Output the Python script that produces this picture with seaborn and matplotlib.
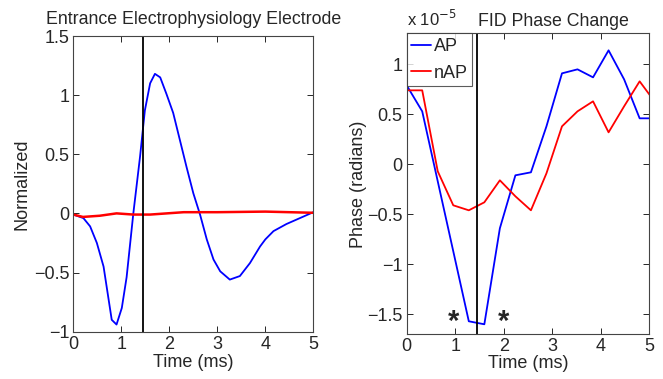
import numpy as np
import pandas as pd
import matplotlib
matplotlib.use('Agg')
import matplotlib.pyplot as plt
import seaborn as sns

# left panel: electrode trace (normalized)
elec_t = [0, 0.21, 0.35, 0.49, 0.63, 0.80, 0.90, 1.01, 1.11, 1.25, 1.39, 1.49, 1.60, 1.70, 1.81,
          1.94, 2.08, 2.22, 2.36, 2.50, 2.64, 2.78, 2.92, 3.06, 3.26, 3.47, 3.68, 3.89, 4.0,
          4.17, 4.44, 4.72, 5.0]
elec_ap = [-0.01, -0.04, -0.11, -0.25, -0.45, -0.90, -0.94, -0.80, -0.54, 0.0, 0.48, 0.87, 1.10, 1.18, 1.15,
           1.01, 0.85, 0.62, 0.39, 0.17, -0.01, -0.22, -0.39, -0.49, -0.56, -0.53, -0.42, -0.28, -0.22,
           -0.15, -0.09, -0.04, 0.01]
elec_nap_t = [0, 0.2, 0.55, 0.9, 1.25, 1.6, 2.3, 3.0, 4.0, 5.0]
elec_nap = [-0.01, -0.03, -0.02, 0.0, -0.01, -0.01, 0.01, 0.01, 0.015, 0.005]

# right panel: FID phase change (x 1e-5 rad)
fid_t = [0, 0.32, 0.64, 0.96, 1.28, 1.60, 1.92, 2.24, 2.56, 2.88, 3.20, 3.52, 3.84, 4.16, 4.48, 4.80, 5.12]
fid_ap = [0.79, 0.53, -0.17, -0.87, -1.57, -1.60, -0.64, -0.11, -0.08, 0.38, 0.91, 0.95, 0.87, 1.14, 0.85, 0.46, 0.46]
fid_nap = [0.74, 0.74, -0.07, -0.41, -0.46, -0.38, -0.16, -0.32, -0.46, -0.09, 0.38, 0.53, 0.63, 0.32, 0.58, 0.83, 0.62]
stim_t = 1.45
star_t = [0.96, 1.99]
star_y = [-1.58, -1.58]

sns.set_style('ticks')
plt.rcParams['font.family'] = ['Liberation Sans', 'DejaVu Sans']
plt.rcParams['axes.edgecolor'] = '#444444'
plt.rcParams['xtick.direction'] = 'in'
plt.rcParams['ytick.direction'] = 'in'
plt.rcParams['xtick.top'] = True
plt.rcParams['ytick.right'] = True

fig = plt.figure(figsize=(6.63, 3.79), dpi=100)
ax1 = fig.add_axes([0.1106, 0.125, 0.362, 0.780])
ax2 = fig.add_axes([0.6134, 0.118, 0.366, 0.794])

#left
sns.lineplot(x=elec_t, y=elec_ap, color='blue', lw=1.3, ax=ax1)
sns.lineplot(x=elec_nap_t, y=elec_nap, color='red', lw=1.8, ax=ax1)
ax1.axvline(stim_t, color='black', lw=1.3)
ax1.set_xlim(0, 5)
ax1.set_ylim(-1, 1.5)
ax1.set_xticks([0, 1, 2, 3, 4, 5])
ax1.set_yticks([-1, -0.5, 0, 0.5, 1, 1.5])
ax1.set_yticklabels(['\u22121', '\u22120.5', '0', '0.5', '1', '1.5'])
ax1.set_title('Entrance Electrophysiology Electrode', fontsize=12.8, pad=9)
ax1.set_xlabel('Time (ms)', fontsize=13, labelpad=1)
ax1.set_ylabel('Normalized', fontsize=13, labelpad=2)

#right
df = pd.DataFrame({'t': fid_t * 2, 'phase': fid_ap + fid_nap,
                   'kind': ['AP'] * len(fid_t) + ['nAP'] * len(fid_t)})
sns.lineplot(data=df, x='t', y='phase', hue='kind', palette={'AP': 'blue', 'nAP': 'red'}, lw=1.3, ax=ax2)
ax2.axvline(stim_t, color='black', lw=1.3)
for x, y in zip(star_t, star_y):
    ax2.text(x, y, '*', fontsize=21, fontweight='bold', ha='center', va='center')
ax2.set_xlim(0, 5)
ax2.set_ylim(-1.70, 1.31)
ax2.set_xticks([0, 1, 2, 3, 4, 5])
ax2.set_yticks([-1.5, -1, -0.5, 0, 0.5, 1])
ax2.set_yticklabels(['\u22121.5', '\u22121', '\u22120.5', '0', '0.5', '1'])
ax2.set_title('FID Phase Change', fontsize=12.8, x=0.603, pad=5)
ax2.text(0, 1.015, 'x 10$^{-5}$', transform=ax2.transAxes, fontsize=12, va='bottom')
ax2.set_xlabel('Time (ms)', fontsize=13, labelpad=0)
ax2.set_ylabel('Phase (radians)', fontsize=13, labelpad=0)
leg = ax2.legend(loc='upper left', fontsize=13, frameon=True, fancybox=False, handlelength=1.1,
                 handletextpad=0.15, borderpad=0.25, borderaxespad=0.0, labelspacing=0.55)
leg.get_frame().set_edgecolor('#333333')
leg.get_frame().set_linewidth(0.8)

for ax in (ax1, ax2):
    ax.tick_params(labelsize=13, length=4, width=0.7, pad=3)
    for s in ax.spines.values():
        s.set_linewidth(0.8)
        s.set_visible(True)

fig.savefig('out.png', dpi=100)
